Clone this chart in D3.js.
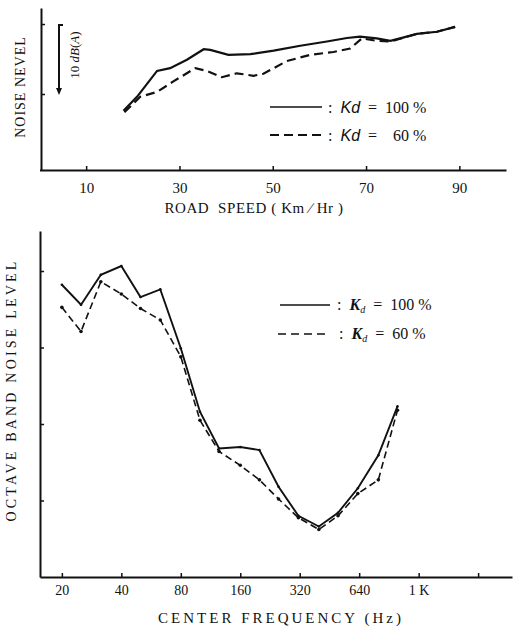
<!DOCTYPE html>
<html><head><meta charset="utf-8">
<script src="https://cdn.jsdelivr.net/npm/d3@7"></script>
<style>
body{margin:0;background:#fff;}
text{font-family:"Liberation Serif","DejaVu Serif",serif;fill:#111;}
</style></head>
<body>
<svg id="c" width="523" height="628"></svg>
<script>
// ---- Top chart data: noise level vs road speed ----
const speedSolid = [18,20.9,25.2,28,31.6,35.2,36.6,40.5,45.2,50.2,55.9,61.6,65.9,68.7,72.3,75.2,77.3,80.9,85.2,89.1];
const levelSolid = [67.6,69.6,73.3,73.7,74.9,76.4,76.3,75.6,75.7,76.2,76.9,77.5,78.0,78.2,77.95,77.6,77.95,78.6,78.9,79.6];
const speedDashed = [18.2,21.6,25.2,28.7,33.4,35.9,39.1,42.3,45.9,48,53,58,63,66.6,69.1,72.3,75.2,77.3,80.9,85.2,89.1];
const levelDashed = [67.4,69.6,70.3,71.8,73.7,73.3,72.4,72.96,72.6,72.9,74.7,75.6,76.0,76.5,77.95,77.6,77.5,77.9,78.6,78.9,79.6];
const speedTicks = [10,30,50,70,90];
const levelTicksTop = [70,80];

// ---- Bottom chart data: octave band noise level vs centre frequency ----
const freqs = [20,25,31.5,40,50,63,80,100,125,160,200,250,315,400,500,630,800,1000];
const bandSolid = [68.2,65.6,69.5,70.65,66.6,67.6,59.9,51.6,46.8,47.0,46.6,41.8,38.0,36.6,38.4,41.6,45.9,52.3];
const bandDashed = [65.25,62.1,68.6,67.0,65.1,63.6,58.8,50.5,46.4,44.6,42.7,40.2,37.75,36.2,38.0,40.9,42.7,51.8];
const freqTicks = [20,40,80,160,320,640,1280,2560];
const freqTickLabels = ["20","40","80","160","320","640","1 K",""];
const bandTicks = [40,50,60,70];

const svg = d3.select("#c");

// ================= TOP CHART =================
const xT = d3.scaleLinear().domain([0,100]).range([39.5,506]);
const yT = d3.scaleLinear().domain([59.14,82.29]).range([170,8]);

const gxT = svg.append("g").attr("transform","translate(0,170)")
  .call(d3.axisBottom(xT).tickValues(speedTicks).tickSizeInner(-4).tickSizeOuter(0).tickPadding(12));
const gyT = svg.append("g").attr("transform","translate(41,0)")
  .call(d3.axisLeft(yT).tickValues(levelTicksTop).tickSizeInner(-4).tickSizeOuter(0).tickFormat(""));
[gxT,gyT].forEach(g=>{
  g.select(".domain").attr("stroke","#111").attr("stroke-width",2);
  g.selectAll(".tick line").attr("stroke","#111").attr("stroke-width",1.5);
});
gxT.selectAll(".tick text").attr("font-size",15).attr("font-family","Liberation Serif").attr("fill","#111");

const lineT = d3.line().x(d=>xT(d[0])).y(d=>yT(d[1])).curve(d3.curveLinear);
svg.append("path").datum(d3.zip(speedSolid,levelSolid)).attr("d",lineT)
  .attr("fill","none").attr("stroke","#111").attr("stroke-width",2.2);
svg.append("path").datum(d3.zip(speedDashed,levelDashed)).attr("d",lineT)
  .attr("fill","none").attr("stroke","#111").attr("stroke-width",2.2).attr("stroke-dasharray","9,5");

// scale bar 10 dB(A)
svg.append("line").attr("x1",59).attr("x2",59).attr("y1",yT(80)).attr("y2",yT(70)-1)
  .attr("stroke","#111").attr("stroke-width",2);
svg.append("line").attr("x1",59).attr("x2",63).attr("y1",yT(80)+1).attr("y2",yT(80)+1)
  .attr("stroke","#111").attr("stroke-width",2);
svg.append("path").attr("d",`M56,${yT(70)-6}L59,${yT(70)+1}L62,${yT(70)-6}Z`).attr("fill","#111");
svg.append("text").attr("transform",`translate(79,${(yT(80)+yT(70))/2-4}) rotate(-90)`)
  .attr("text-anchor","middle").attr("font-size",13)
  .html('10 <tspan font-style="italic">dB</tspan>(<tspan font-style="italic">A</tspan>)');

// axis titles
svg.append("text").attr("transform","translate(25,87) rotate(-90)").attr("text-anchor","middle")
  .attr("font-size",14).attr("letter-spacing",1).text("NOISE NEVEL");
svg.append("text").attr("x",254).attr("y",213).attr("text-anchor","middle").attr("xml:space","preserve")
  .attr("font-size",15).attr("letter-spacing",0.6).text("ROAD  SPEED ( Km ∕ Hr )");

// legend top
svg.append("line").attr("x1",270).attr("x2",322).attr("y1",107).attr("y2",107).attr("stroke","#111").attr("stroke-width",1.6);
svg.append("line").attr("x1",270).attr("x2",322).attr("y1",135).attr("y2",135).attr("stroke","#111").attr("stroke-width",2).attr("stroke-dasharray","9,5");
svg.append("text").attr("x",328).attr("y",113).attr("font-size",16).attr("xml:space","preserve")
  .html(':  <tspan font-style="italic" font-family="Liberation Sans">Kd</tspan>  =  100 %');
svg.append("text").attr("x",328).attr("y",141).attr("font-size",16).attr("xml:space","preserve")
  .html(':  <tspan font-style="italic" font-family="Liberation Sans">Kd</tspan>  =    60 %');

// ================= BOTTOM CHART =================
const xB = d3.scaleLog().base(2).domain([15.5,3800]).range([40,512]);
const yB = d3.scaleLinear().domain([30,75.23]).range([577,231]);

const gxB = svg.append("g").attr("transform","translate(0,577)")
  .call(d3.axisBottom(xB).tickValues(freqTicks).tickSizeInner(-4).tickSizeOuter(0).tickPadding(8)
    .tickFormat((d,i)=>freqTickLabels[i]));
const gyB = svg.append("g").attr("transform","translate(40,0)")
  .call(d3.axisLeft(yB).tickValues(bandTicks).tickSizeInner(-4).tickSizeOuter(0).tickFormat(""));
[gxB,gyB].forEach(g=>{
  g.select(".domain").attr("stroke","#111").attr("stroke-width",2);
  g.selectAll(".tick line").attr("stroke","#111").attr("stroke-width",1.5);
});
gxB.selectAll(".tick text").attr("font-size",14).attr("font-family","Liberation Serif").attr("fill","#111");

const lineB = d3.line().x(d=>xB(d[0])).y(d=>yB(d[1]));
svg.append("path").datum(d3.zip(freqs,bandSolid)).attr("d",lineB)
  .attr("fill","none").attr("stroke","#111").attr("stroke-width",1.9);
svg.append("path").datum(d3.zip(freqs,bandDashed)).attr("d",lineB)
  .attr("fill","none").attr("stroke","#111").attr("stroke-width",1.6).attr("stroke-dasharray","7,4");
svg.append("g").selectAll("circle").data(d3.zip(freqs,bandDashed)).join("circle")
  .attr("cx",d=>xB(d[0])).attr("cy",d=>yB(d[1])).attr("r",1.8).attr("fill","#111");
svg.append("g").selectAll("circle").data(d3.zip(freqs,bandSolid)).join("circle")
  .attr("cx",d=>xB(d[0])).attr("cy",d=>yB(d[1])).attr("r",1.3).attr("fill","#111");

svg.append("text").attr("transform","translate(16,390) rotate(-90)").attr("text-anchor","middle")
  .attr("font-size",14).attr("letter-spacing",3.2).text("OCTAVE BAND NOISE LEVEL");
svg.append("text").attr("x",281).attr("y",623).attr("text-anchor","middle")
  .attr("font-size",15).attr("letter-spacing",3).text("CENTER FREQUENCY (Hz)");

// legend bottom
svg.append("line").attr("x1",280).attr("x2",330).attr("y1",305).attr("y2",305).attr("stroke","#111").attr("stroke-width",1.5);
svg.append("line").attr("x1",278).attr("x2",326).attr("y1",334).attr("y2",334).attr("stroke","#111").attr("stroke-width",1.5).attr("stroke-dasharray","8,5");
svg.append("text").attr("x",337).attr("y",310).attr("font-size",16).attr("xml:space","preserve")
  .html(':  <tspan font-style="italic" font-weight="bold">K</tspan><tspan font-style="italic" font-size="10" dy="3">d</tspan><tspan dy="-3">  =  100 %</tspan>');
svg.append("text").attr("x",339).attr("y",339).attr("font-size",16).attr("xml:space","preserve")
  .html(':  <tspan font-style="italic" font-weight="bold">K</tspan><tspan font-style="italic" font-size="10" dy="3">d</tspan><tspan dy="-3">  =  60 %</tspan>');
</script>
</body></html>
